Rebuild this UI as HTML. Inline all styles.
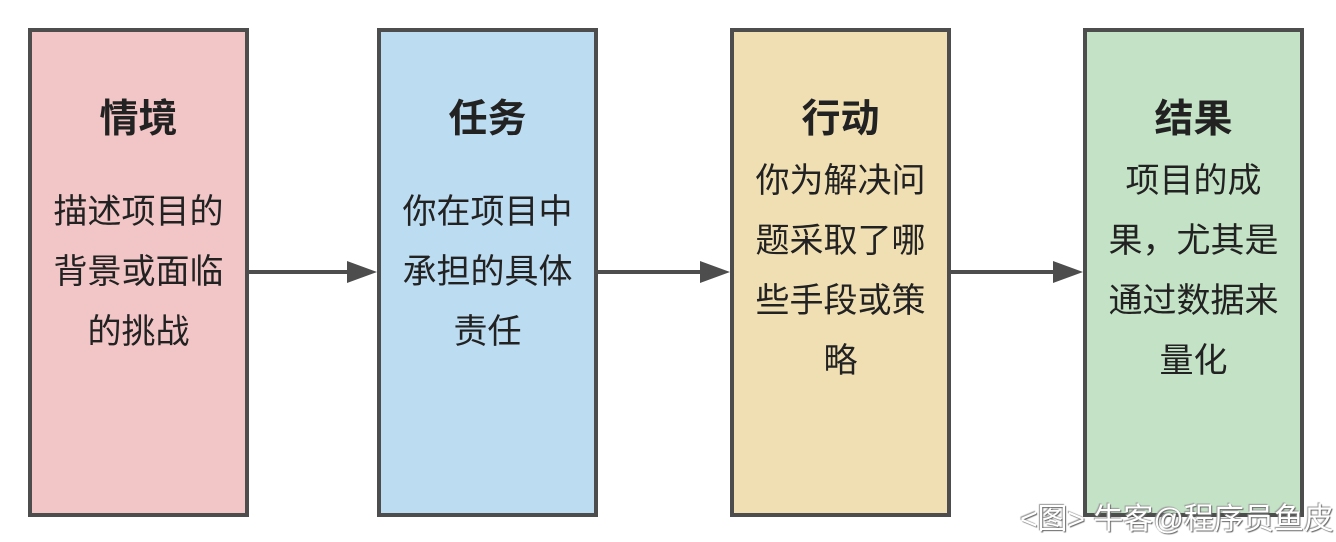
<!DOCTYPE html>
<html><head><meta charset="utf-8"><style>
body{margin:0;width:1336px;height:542px;background:#fff;position:relative;overflow:hidden;font-family:"Liberation Sans","Noto Sans CJK SC",sans-serif;}
.b{position:absolute;top:28px;width:213px;height:481px;border:4px solid #4d4d4d;text-align:center;color:#222;}
.t{position:absolute;left:-20px;right:-20px;top:66px;font-size:39px;font-weight:bold;line-height:44px;}
.d{position:absolute;left:-20px;right:-20px;font-size:34px;line-height:60px;}
.a{position:absolute;top:270px;height:4px;background:#4d4d4d;}
.h{position:absolute;top:261px;width:0;height:0;border-top:11px solid transparent;border-bottom:11px solid transparent;border-left:30px solid #4d4d4d;}
.w{position:absolute;left:1020px;top:494px;font-size:30px;color:#fff;text-shadow:1px 1px 1px #666,-1px -1px 1px #999;white-space:nowrap;}
</style></head><body>
<div class="b" style="left:28px;background:#f2c6c6"><div class="t">情境</div><div class="d" style="top:150px">描述项目的<br>背景或面临<br>的挑战</div></div>
<div class="b" style="left:377px;background:#bcdcf1"><div class="t">任务</div><div class="d" style="top:150px">你在项目中<br>承担的具体<br>责任</div></div>
<div class="b" style="left:730px;background:#f0dfb3"><div class="t">行动</div><div class="d" style="top:119px">你为解决问<br>题采取了哪<br>些手段或策<br>略</div></div>
<div class="b" style="left:1083px;background:#c4e3c6"><div class="t">结果</div><div class="d" style="top:119px">项目的成<br>果，尤其是<br>通过数据来<br>量化</div></div>
<div class="a" style="left:249px;width:100px"></div><div class="h" style="left:347px"></div>
<div class="a" style="left:598px;width:104px"></div><div class="h" style="left:700px"></div>
<div class="a" style="left:951px;width:104px"></div><div class="h" style="left:1053px"></div>
<div class="w">&lt;图&gt; 牛客@程序员鱼皮</div>
</body></html>
